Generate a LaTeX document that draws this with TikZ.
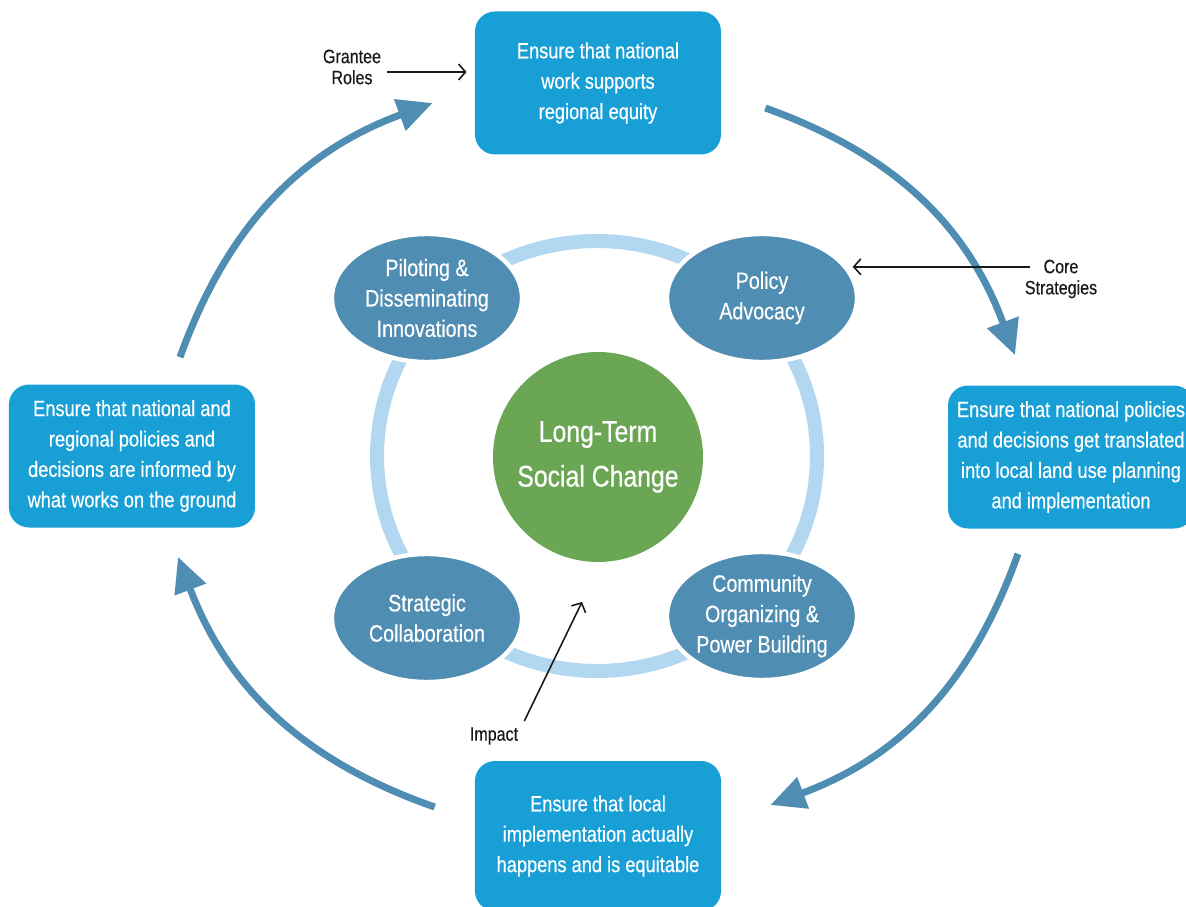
\documentclass[tikz,border=0pt]{standalone}
\usepackage{fontspec}
\setmainfont{Liberation Sans}[FakeStretch=0.83, FakeBold=0.4]
\usetikzlibrary{
  shapes.geometric
  , calc
  , arrows.meta
}
\definecolor{RoleBlue}{RGB}{24,159,214}
\definecolor{CoreBlue}{RGB}{79,141,179}
\definecolor{RingBlue}{RGB}{178,215,240}
\definecolor{ChangeGreen}{RGB}{106,166,83}

\begin{document}
\begin{tikzpicture}[
    role/.style={
      fill=RoleBlue,
      rounded corners=0.4cm,
      minimum width=4.92cm,
      minimum height=2.86cm,
      text=white,
      align=center,
      font=\fontsize{12.5}{17.3}\selectfont,
    },
    strategy/.style={
      ellipse,
      fill=CoreBlue,
      draw=white,
      line width=2.5pt,
      minimum width=3.8cm,
      minimum height=2.56cm,
      inner sep=0pt,
      text=white,
      align=center,
      font=\fontsize{13.5}{17.3}\selectfont,
    },
    loopArrow/.style={
      CoreBlue,
      line width=0.14cm,
      -{Triangle[length=0.7cm, width=0.64cm]},
    },
    notelbl/.style={align=center, font=\fontsize{11}{12}\selectfont, text=black!90},
    pointer/.style={-{Straight Barb[length=4pt, width=9pt]}, line width=0.9pt, black!90},
  ]
  \useasboundingbox (-11.94, -9.0) rectangle (11.78, 9.12);

  % ring joining the four strategies
  \draw[RingBlue, line width=0.28cm] (0, 0) ellipse [x radius=4.4cm, y radius=4.3cm];

  \node [circle,
    fill=ChangeGreen,
    minimum size=4.2cm,
    text=white,
    align=center,
    font=\fontsize{17}{25.5}\selectfont,
  ] (LongTerm) at (0.02, -0.02) {Long-Term\\Social Change};

  \node [strategy] (Piloting) at (-3.4, 3.16) {Piloting \&\\Disseminating\\Innovations};
  \node [strategy] (PolicyAdv) at (3.3, 3.16) {Policy\\Advocacy};
  \node [strategy] (StratCollab) at (-3.4, -3.24) {Strategic\\Collaboration};
  \node [strategy] (Community) at (3.3, -3.2) {Community\\Organizing \&\\Power Building};

  % grantee roles
  \node [role] (NationalWork) at (0.02, 7.46) {Ensure that national\\work supports\\regional equity};
  \node [role] (OnGround) at (-9.3, 0) {Ensure that national and\\regional policies and\\decisions are informed by\\what works on the ground};
  \node [role] (Translated) at (9.48, -0.02) {Ensure that national policies\\and decisions get translated\\into local land use planning\\and implementation};
  \node [role, minimum height=3.0cm] (LocalImpl) at (0.02, -7.6) {Ensure that local\\implementation actually\\happens and is equitable};

  \draw[loopArrow]
  ([shift={(0.96,0.54)}]OnGround.north) to[bend left=25] ([shift={(-0.84,-0.4)}]NationalWork.west);
  \draw[loopArrow]
  ([shift={(0.88,-0.5)}]NationalWork.east) to[bend left=25] ([shift={(-1.12,0.6)}]Translated.north);
  \draw[loopArrow]
  ([shift={(-1.06,-0.5)}]Translated.south) to[bend left=25] ([shift={(0.98,0.62)}]LocalImpl.east);
  \draw[loopArrow]
  ([shift={(-0.8,0.58)}]LocalImpl.west) to[bend left=25] ([shift={(0.92,-0.58)}]OnGround.south);

  % call-outs
  \node [notelbl] (GranteeLbl) at (-4.9, 7.78) {Grantee\\Roles};
  \coordinate (GranteeTip) at ($(NationalWork.west |- GranteeLbl.east)+(-0.16,-0.1)$);
  \draw[pointer] ([yshift=-0.1cm]GranteeLbl.east) -- (GranteeTip);

  \node [notelbl] (CoreLbl) at (9.28, 3.54) {Core\\Strategies};
  \coordinate (CoreTip) at ($(PolicyAdv.20)+(0.1,0)$);
  \draw[pointer] ($(CoreLbl.west |- CoreTip)+(0.22,0)$) -- (CoreTip);

  \node [notelbl] (ImpactLbl) at (-2.06, -5.6) {Impact};
  \coordinate (ImpactTip) at (-0.3, -2.92);
  \draw[pointer] (ImpactLbl.north east) -- (ImpactTip);

\end{tikzpicture}
\end{document}
